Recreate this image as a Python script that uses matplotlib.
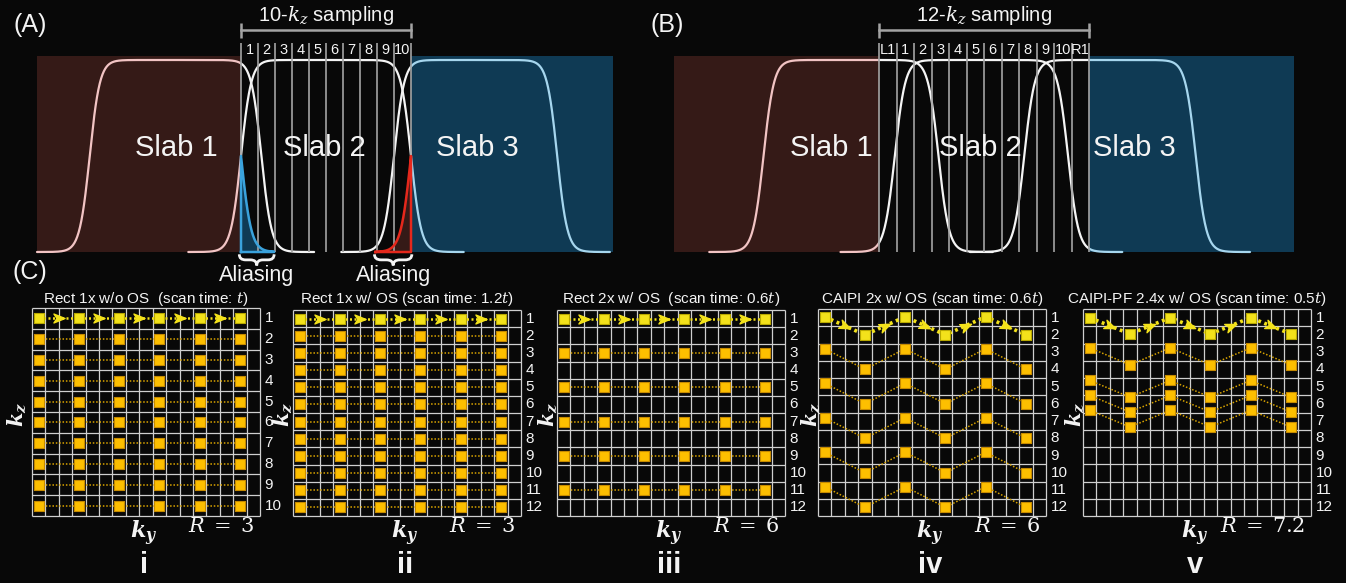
import numpy as np
import matplotlib
matplotlib.use("Agg")
import matplotlib.pyplot as plt
from matplotlib.markers import MarkerStyle
from matplotlib.path import Path
from matplotlib.patches import PathPatch
from matplotlib.transforms import Affine2D

plt.rcParams['font.family'] = ['Liberation Sans', 'DejaVu Sans']
plt.rcParams['mathtext.fontset'] = 'custom'
plt.rcParams['mathtext.rm'] = 'DejaVu Serif'
plt.rcParams['mathtext.it'] = 'DejaVu Serif:italic'
plt.rcParams['mathtext.bf'] = 'DejaVu Serif:bold:italic'

W, H = 1346, 583
BG = '#080808'
RED_BOX, BLUE_BOX = '#351a17', '#0f3a54'
PINK, LBLUE, WHITE, GRAY = '#f2c4c4', '#a6d6ee', '#f4f4f4', '#a3a3a3'
ALIAS_BLUE, ALIAS_RED = '#3aa2dc', '#e5281c'
GRID_C = '#cfcfcf'
YEL, YEL_EDGE = '#f3e21b', '#b8a800'
ORG, ORG_EDGE, ORG_LINE = '#fdbf00', '#c68a00', '#d9a400'

# ---------------- data: slab profiles (x in kz-sample units, 0 = first sampling line)
a_rise = [-8.9, 0.0, 9.0]
a_fall = [1.2, 10.0, 18.6]
a_box1 = [-12.0, 0.0]
a_box3 = [10.0, 21.9]
a_labels = [str(i) for i in range(1, 11)]
a_slab_x = [-3.8, 4.9, 13.9]

b_rise = [-6.6, 0.9, 8.3]
b_fall = [3.4, 10.8, 18.1]
b_box1 = [-11.7, 0.0]
b_box3 = [12.0, 23.7]
b_labels = ['L1'] + [str(i) for i in range(1, 11)] + ['R1']
b_slab_x = [-2.75, 5.8, 14.6]

slab_names = ['Slab 1', 'Slab 2', 'Slab 3']
EDGE = 0.3      # edge softness of a slab profile
TAIL = 3.1      # how far the drawn curve runs past each edge

# ---------------- data: k-space sampling patterns (panel C)
c_titles = ['Rect 1x w/o OS  (scan time: $t$)', 'Rect 1x w/ OS (scan time: 1.2$t$)',
            'Rect 2x w/ OS  (scan time: 0.6$t$)', 'CAIPI 2x w/ OS (scan time: 0.6$t$)',
            'CAIPI-PF 2.4x w/ OS (scan time: 0.5$t$)']
c_nrows = [10, 12, 12, 12, 12]
c_R = ['3', '3', '6', '6', '7.2']
c_numerals = ['i', 'ii', 'iii', 'iv', 'v']
NCOLS = 17
rect_cols = [0, 3, 6, 9, 12, 15]
zig_cols = [0, 3, 6, 9, 12, 15]
i_rows = list(range(1, 11))
ii_rows = list(range(1, 13))
iii_rows = [1, 3, 5, 7, 9, 11]
iv_upper = [0.95, 2.8, 4.8, 6.8, 8.8, 10.8]
iv_lower = [2.0, 4.0, 6.0, 8.0, 10.0, 12.0]
v_upper = [1.0, 2.75, 4.64, 5.51, 6.37]
v_lower = [1.95, 3.74, 5.61, 6.47, 7.34]

fig = plt.figure(figsize=(W / 100, H / 100), dpi=100, facecolor=BG)


def px_axes(x0, y0, x1, y1):
    ax = fig.add_axes([x0 / W, 1 - y1 / H, (x1 - x0) / W, (y1 - y0) / H])
    ax.set_axis_off()
    return ax


def fx(px): return px / W
def fy(py): return 1 - py / H


def sig(z): return 1 / (1 + np.exp(-z))
def profile(x, r, f): return sig((x - r) / EDGE) * sig((f - x) / EDGE)


def brace(ax, x0, x1, yt, yb):
    ym, xm, r = (yt + yb) / 2, (x0 + x1) / 2, (x1 - x0) * 0.18
    v = [(x0, yt), (x0, ym), (x0 + r, ym), (xm - r, ym), (xm, ym), (xm, yb),
         (xm, ym), (xm + r, ym), (x1 - r, ym), (x1, ym), (x1, yt)]
    c = [Path.MOVETO, Path.CURVE3, Path.CURVE3, Path.LINETO, Path.CURVE3, Path.CURVE3,
         Path.CURVE3, Path.CURVE3, Path.LINETO, Path.CURVE3, Path.CURVE3]
    ax.add_patch(PathPatch(Path(v, c), fc='none', ec=WHITE, lw=2, clip_on=False))


def slab_panel(ax, rise, fall, box1, box3, labels, slab_x, title):
    nkz = len(labels)
    top = 1.02
    ax.fill_between(box1, 0, top, color=RED_BOX, lw=0)
    ax.fill_between(box3, 0, top, color=BLUE_BOX, lw=0)
    for r, f in zip(rise, fall):
        x0, x1 = r - TAIL, f + TAIL
        for lo, hi, col in [(-99, box1[1], PINK), (box1[1], box3[0], WHITE), (box3[0], 99, LBLUE)]:
            lo, hi = max(lo, x0), min(hi, x1)
            if hi > lo:
                xs = np.linspace(lo, hi, 300)
                ax.plot(xs, profile(xs, r, f), color=col, lw=1.6, solid_capstyle='round')
    ax.vlines(np.arange(nkz + 1), 0, 1.09, color=GRAY, lw=1.2)
    for k, lab in enumerate(labels):
        ax.text(k + 0.5, 1.052, lab, color=WHITE, fontsize=10.5, ha='center', va='center')
    ax.plot([0, nkz], [1.156, 1.156], color=GRAY, lw=1.8)
    ax.vlines([0, nkz], 1.115, 1.195, color=GRAY, lw=1.8)
    ax.text(nkz / 2, 1.232, title, color=WHITE, fontsize=14.5, ha='center', va='center')
    for x, name in zip(slab_x, slab_names):
        ax.text(x, 0.54, name, color=WHITE, fontsize=21, ha='center', va='center')


# ---------------- panel A
axA = px_axes(0, 0, 660, 290)
axA.set_xlim((0 - 241) / 17, (660 - 241) / 17)
axA.set_ylim((252 - 290) / 192, 252 / 192)
slab_panel(axA, a_rise, a_fall, a_box1, a_box3, a_labels, a_slab_x, '10-$k_z$ sampling')
# aliasing: slab-2 tails wrapped into the opposite side of the FOV
N = len(a_labels)
xb = np.linspace(0, 1.95, 200)
yb = profile(xb + N, a_rise[1], a_fall[1])
axA.fill_between(xb, 0, yb, color=BLUE_BOX, lw=0)
axA.plot(np.r_[0, xb, 1.95, 0], np.r_[0, yb, 0, 0], color=ALIAS_BLUE, lw=1.8)
xr = np.linspace(7.9, N, 200)
yr = profile(xr - N, a_rise[1], a_fall[1])
axA.fill_between(xr, 0, yr, color=RED_BOX, lw=0)
axA.plot(np.r_[7.9, xr, N, N, 7.9], np.r_[0, yr, yr[-1], 0, 0], color=ALIAS_RED, lw=1.8)
brace(axA, -0.1, 1.95, -0.012, -0.07)
brace(axA, 7.85, 10.05, -0.012, -0.07)
axA.text(0.9, -0.125, 'Aliasing', color=WHITE, fontsize=15.5, ha='center', va='center')
axA.text(8.95, -0.125, 'Aliasing', color=WHITE, fontsize=15.5, ha='center', va='center')

# ---------------- panel B
axB = px_axes(660, 0, W, 290)
axB.set_xlim((660 - 879) / 17.5, (W - 879) / 17.5)
axB.set_ylim((252 - 290) / 192, 252 / 192)
slab_panel(axB, b_rise, b_fall, b_box1, b_box3, b_labels, b_slab_x, '12-$k_z$ sampling')

for lab, x, y in [('(A)', 30, 25), ('(B)', 667, 25), ('(C)', 30, 272)]:
    fig.text(fx(x), fy(y), lab, color=WHITE, fontsize=18, ha='center', va='center')

# ---------------- panel C
arrow_path = Path([(-1, -0.8), (1, 0), (-1, 0.8), (-0.45, 0), (-1, -0.8)],
                  [Path.MOVETO, Path.LINETO, Path.LINETO, Path.LINETO, Path.CLOSEPOLY])


def rect_traj(rows):
    return [(np.array(rect_cols) + 0.5, np.full(len(rect_cols), r - 0.5)) for r in rows]


def zig_traj(upper, lower):
    out = []
    for u, l in zip(upper, lower):
        ys = np.array([u if j % 2 == 0 else l for j in range(len(zig_cols))]) - 0.5
        out.append((np.array(zig_cols) + 0.5, ys))
    return out


c_traj = [rect_traj(i_rows), rect_traj(ii_rows), rect_traj(iii_rows),
          zig_traj(iv_upper, iv_lower), zig_traj(v_upper, v_lower)]
grid_left = [32, 293, 557, 818, 1083]
grid_top = [308, 310, 310, 309, 309]
kz_x = [17, 283, 548, 811, 1075]
GRID_W, GRID_B = 228, 516

for k in range(5):
    x0, y0 = grid_left[k], grid_top[k]
    ax = px_axes(x0, y0, x0 + GRID_W, GRID_B)
    n = c_nrows[k]
    ax.set_xlim(0, NCOLS)
    ax.set_ylim(n, 0)
    ax.vlines(np.arange(NCOLS + 1), 0, n, color=GRID_C, lw=0.9, clip_on=False)
    ax.hlines(np.arange(n + 1), 0, NCOLS, color=GRID_C, lw=0.9, clip_on=False)
    zig = k >= 3
    for j, (xs, ys) in enumerate(c_traj[k]):
        first = j == 0
        if first:
            ax.plot(xs, ys, color=YEL, lw=2.6 if zig else 1.8, ls=(0, (0.8, 1.0)), zorder=3)
        else:
            ax.plot(xs, ys, color=ORG_LINE, lw=1.1, ls=(0, (1, 1.2)), zorder=3)
        ax.scatter(xs, ys, s=48, marker='s', color=YEL if first else ORG,
                   edgecolors=YEL_EDGE if first else ORG_EDGE, linewidths=0.8, zorder=4)
        if first:
            pts = ax.transData.transform(np.column_stack([xs, ys]))
            for m in range(len(xs) - 1):
                d = pts[m + 1] - pts[m]
                ang = np.degrees(np.arctan2(d[1], d[0]))
                ms = MarkerStyle(arrow_path, transform=Affine2D().rotate_deg(ang))
                ax.plot((xs[m] + xs[m + 1]) / 2, (ys[m] + ys[m + 1]) / 2, marker=ms,
                        ms=8, color=YEL, mec=YEL, ls='none', zorder=5)
    for r in range(1, n + 1):
        ax.text(NCOLS + 0.35, r - 0.5, str(r), color=WHITE, fontsize=11,
                ha='left', va='center', clip_on=False)
    cx = x0 + GRID_W / 2
    fig.text(fx(cx), fy(299), c_titles[k], color=WHITE, fontsize=11, ha='center', va='center')
    fig.text(fx(kz_x[k]), fy(414), r'$\mathbf{k_z}$', color=WHITE, fontsize=15,
             rotation=90, ha='center', va='center')
    fig.text(fx(cx - 2), fy(533), r'$\mathbf{k_y}$', color=WHITE, fontsize=16,
             ha='center', va='center')
    fig.text(fx(x0 + GRID_W - 6), fy(527), r'$R\;=\;' + c_R[k] + '$', color=WHITE,
             fontsize=15, ha='right', va='center')
    fig.text(fx(cx - 2), fy(565), c_numerals[k], color=WHITE, fontsize=21,
             fontweight='bold', ha='center', va='center')

fig.savefig('out.png', dpi=100, facecolor=BG)
